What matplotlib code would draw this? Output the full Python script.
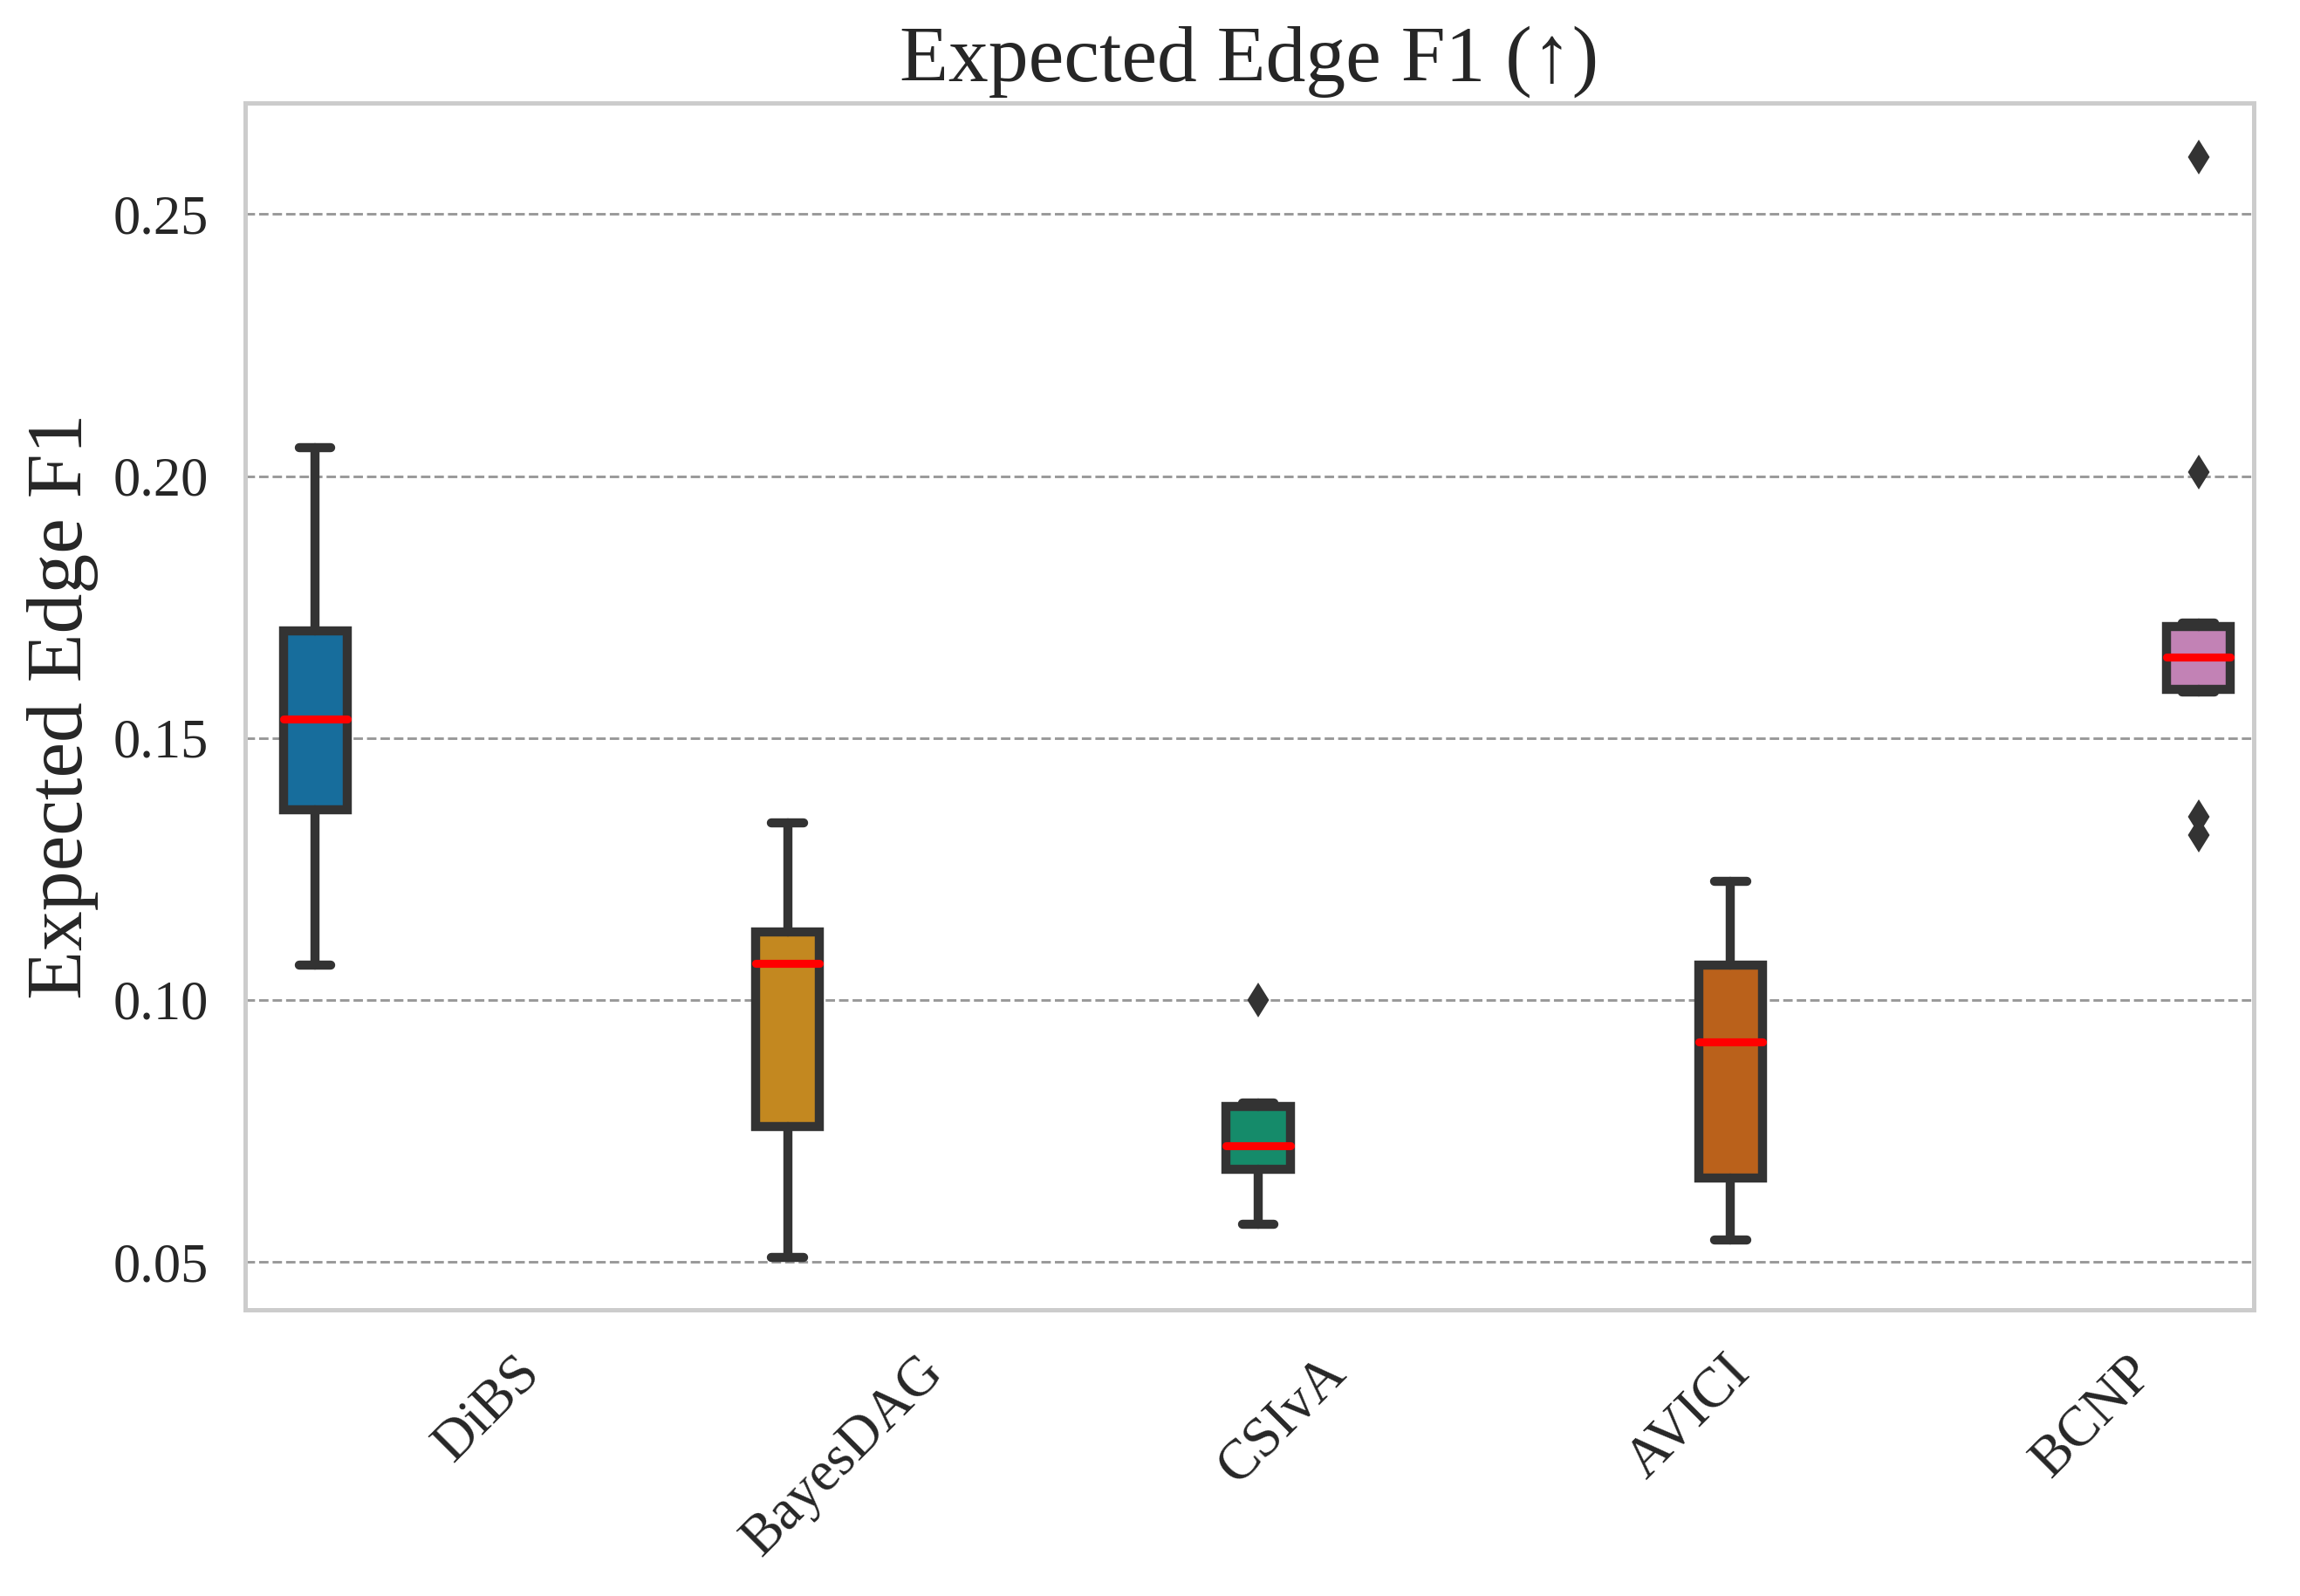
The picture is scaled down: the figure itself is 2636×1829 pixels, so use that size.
import matplotlib
matplotlib.use("Agg")
import matplotlib.pyplot as plt
import seaborn as sns

# box statistics
methods = ["DiBS", "BayesDAG", "CSIvA", "AVICI", "BCNP"]
whis_low = [0.1066, 0.0508, 0.0572, 0.0542, 0.1588]
q1 = [0.1363, 0.0758, 0.0676, 0.0660, 0.1592]
median = [0.1536, 0.1069, 0.0721, 0.0920, 0.1654]
q3 = [0.1704, 0.1130, 0.0797, 0.1066, 0.1713]
whis_high = [0.2055, 0.1338, 0.0803, 0.1226, 0.1720]
fliers = [[], [], [0.1000], [], [0.2609, 0.2007, 0.1349, 0.1315]]
palette = ["#0173B2", "#DE8F05", "#029E73", "#D55E00", "#CC78BC"]
# hue-dodge offset of each box relative to its tick
dodge = [-0.582, -0.411, -0.244, -0.073, 0.087]

sns.set_theme(style="whitegrid")
plt.rcParams["font.family"] = ["Liberation Serif", "DejaVu Serif"]

fig = plt.figure(figsize=(8.787, 6.097), dpi=300)
ax = fig.add_axes([0.1065, 0.1792, 0.8735, 0.7565])

stats = []
for i, m in enumerate(methods):
    stats.append(dict(label=m, whislo=whis_low[i], q1=q1[i], med=median[i],
                      q3=q3[i], whishi=whis_high[i], fliers=fliers[i]))

pos = [i + d for i, d in enumerate(dodge)]
edge = "#333333"
bp = ax.bxp(stats, positions=pos, widths=0.158,
            patch_artist=True, manage_ticks=False,
            boxprops=dict(edgecolor=edge, linewidth=2.5),
            whiskerprops=dict(color=edge, linewidth=2.5, solid_capstyle="round"),
            capprops=dict(color=edge, linewidth=2.5, solid_capstyle="round"),
            medianprops=dict(color="red", linewidth=2.2, solid_capstyle="round"),
            flierprops=dict(marker="d", markerfacecolor=edge, markeredgecolor=edge,
                            markersize=5.5))
for patch, c in zip(bp["boxes"], palette):
    patch.set_facecolor(sns.desaturate(c, 0.75))

ax.set_xticks(range(len(methods)))
ax.set_xticklabels(methods, rotation=45, ha="right", fontsize=15.5)
ax.set_xlim(-0.756, 4.225)
ax.set_ylim(0.0408, 0.2713)
ax.set_yticks([0.05, 0.10, 0.15, 0.20, 0.25])
ax.set_yticklabels(["0.05", "0.10", "0.15", "0.20", "0.25"], fontsize=15)
ax.tick_params(axis="both", colors="#262626", pad=4)

ax.grid(False)
ax.yaxis.grid(True, linestyle="--", color="#999999", linewidth=0.7)
for s in ax.spines.values():
    s.set_color("#cccccc")
    s.set_linewidth(1.2)

ax.set_title("Expected Edge F1 (\u2191)", fontsize=22, color="#262626")
ax.set_ylabel("Expected Edge F1", fontsize=22, color="#262626")

fig.savefig("out.png", dpi=300)
